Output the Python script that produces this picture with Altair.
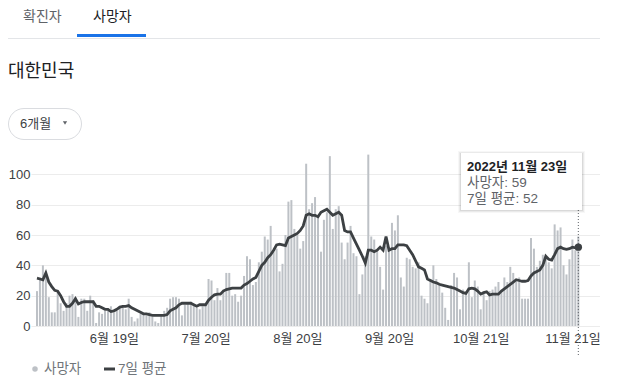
import altair as alt
import pandas as pd

# ---------------- data ----------------
start_date = "2022-05-24"
deaths = [
    23, 32, 40, 35, 19, 9, 9, 22, 15, 10,
    15, 20, 21, 19, 6, 18, 18, 10, 20, 17,
    2, 9, 8, 10, 10, 13, 9, 10, 12, 13,
    11, 18, 6, 3, 5, 8, 8, 7, 9, 6,
    3, 2, 7, 10, 12, 18, 19, 19, 18, 7,
    14, 15, 16, 14, 12, 11, 13, 14, 31, 30,
    17, 25, 17, 24, 35, 35, 20, 21, 16, 20,
    33, 46, 44, 27, 29, 42, 49, 59, 57, 66,
    49, 51, 36, 41, 60, 82, 83, 64, 60, 51,
    56, 107, 77, 81, 85, 73, 49, 70, 75, 112,
    64, 77, 79, 55, 44, 55, 66, 48, 46, 21,
    34, 46, 113, 59, 57, 50, 39, 24, 53, 52,
    68, 63, 73, 32, 26, 45, 44, 39, 38, 42,
    20, 18, 15, 31, 40, 31, 27, 22, 12, 4,
    27, 35, 32, 11, 24, 22, 42, 19, 30, 26,
    11, 22, 17, 23, 24, 26, 29, 23, 32, 29,
    39, 35, 31, 32, 18, 18, 18, 58, 51, 39,
    43, 47, 46, 42, 38, 67, 63, 65, 40, 34,
    44, 57, 50, 59,
]
avg7 = [
    31.5, 31, 30.5, 35, 29, 26, 23.5, 23, 20, 16,
    13, 13, 15, 18, 14.5, 15.5, 16, 16, 16, 16,
    13, 13, 12, 11, 11, 9.5, 10, 11, 12.5, 13,
    13, 13.5, 12, 11, 10, 9, 8, 8, 7.5, 7,
    7, 7, 7, 7, 7.5, 10, 11, 12, 14, 15,
    15, 15, 15, 14, 13, 14, 14, 14, 17, 19,
    20.5, 21, 21, 23, 24, 24.5, 25, 25, 25, 25,
    27, 28, 29.5, 31, 32, 36, 40, 42, 45, 47,
    50, 53.5, 54, 53.5, 53, 58, 59, 60, 61, 63,
    66, 73, 74, 73, 73, 72, 75, 76, 77, 75,
    73, 74, 75, 73, 63, 62, 62, 58, 54, 50,
    46, 41.5, 50, 50, 49, 50, 52, 50, 59, 50,
    51, 51, 53.5, 53.5, 53.5, 53, 50, 47, 43, 39,
    38, 37, 31, 30, 29, 28.5, 27.5, 27, 26.5, 26,
    25.5, 25, 24, 23, 22, 21.5, 24.5, 25, 24.5, 23,
    21, 22, 22.5, 20.5, 21, 21, 21, 23, 24.5, 26,
    27.5, 29, 30.5, 30, 29.5, 29.5, 30, 33, 35, 36,
    37, 40, 46, 44, 43.5, 47, 51, 52, 51, 50.5,
    51, 52, 51.5, 52,
]
tick_days = [26, 57, 88, 119, 150, 181]
tick_labels = ["6월 19일", "7월 20일", "8월 20일", "9월 20일", "10월 21일", "11월 21일"]
y_ticks = [0, 20, 40, 60, 80, 100]

tab_labels = ["확진자", "사망자"]
region_title = "대한민국"
range_label = "6개월"
legend_labels = ["사망자", "7일 평균"]
tip_title = "2022년 11월 23일"
tip_lines = ["사망자: 59", "7일 평균: 52"]

n = min(len(deaths), len(avg7))
df = pd.DataFrame({"day": list(range(n)), "deaths": deaths[:n], "avg": avg7[:n]})
last = df.iloc[[n - 1]]

FONT = "Liberation Sans, Noto Sans CJK KR"
BAR = "#bdc1c6"
LINE = "#3c4043"

label_expr = "''"
for d, l in reversed(list(zip(tick_days, tick_labels))):
    label_expr = f"datum.value == {d} ? '{l}' : {label_expr}"

W, H = 569, 182
xs = alt.Scale(domain=[-0.33, 188.64], nice=False, zero=False)
ys = alt.Scale(domain=[0, 120], nice=False)

x_axis = alt.Axis(values=tick_days, labelExpr=label_expr, grid=False, domain=False,
                  ticks=False, labelFontSize=13, labelColor="#3c4043", labelPadding=6,
                  labelFont=FONT, title=None, labelFlush=False, labelOverlap=False)
y_axis = alt.Axis(values=y_ticks, grid=True, gridColor="#ececec", domain=False, ticks=False,
                  labelFontSize=13, labelColor="#3c4043", labelPadding=1, labelFont=FONT,
                  title=None, labelOverlap=False)


def X():
    return alt.X("day:Q", scale=xs, axis=x_axis)


def Y(field):
    return alt.Y(f"{field}:Q", scale=ys, axis=y_axis)


base = alt.Chart(df)
bars = base.mark_bar(size=2, color=BAR).encode(x=X(), y=Y("deaths"))
line = base.mark_line(color=LINE, strokeWidth=2.8).encode(x=X(), y=Y("avg"))
vrule = alt.Chart(last).mark_rule(color="#5f6368", strokeDash=[1, 2], strokeWidth=1).encode(
    x=X(), y=alt.value(66), y2=alt.value(213)
)
dot = alt.Chart(last).mark_circle(color=LINE, size=55, opacity=1).encode(x=X(), y=Y("avg"))

OX, OY = 31, 144  # page -> chart offset


def txt(s, px, py, size=13, color="#202124", weight="normal", align="left", baseline="middle"):
    return alt.Chart(pd.DataFrame({"t": [s]})).mark_text(
        font=FONT, fontSize=size, color=color, fontWeight=weight, align=align, baseline=baseline
    ).encode(text="t:N", x=alt.value(px - OX), y=alt.value(py - OY))


def box(x1, y1, x2, y2, fill, opacity=1.0, stroke=None, radius=0):
    kw = dict(fill=fill, opacity=opacity, cornerRadius=radius)
    if stroke:
        kw.update(stroke=stroke, strokeWidth=1)
    return alt.Chart(pd.DataFrame({"a": [0]})).mark_rect(**kw).encode(
        x=alt.value(x1 - OX), x2=alt.value(x2 - OX), y=alt.value(y1 - OY), y2=alt.value(y2 - OY)
    )


one = pd.DataFrame({"a": [0]})
header = [
    box(8, 38, 600, 39, "#e3e5e8"),
    box(77, 34, 146, 37, "#1a73e8"),
    txt(tab_labels[0], 23, 17, size=14, color="#5f6368"),
    txt(tab_labels[1], 93, 17, size=14, color="#202124"),
    txt(region_title, 8, 72, size=18, color="#202124"),
    box(8.5, 108.5, 81.5, 139.5, "white", stroke="#dadce0", radius=16),
    txt(range_label, 20, 124, size=13, color="#3c4043"),
    alt.Chart(one).mark_point(shape="triangle-down", filled=True, size=18, color="#5f6368",
                              opacity=1).encode(x=alt.value(65 - OX), y=alt.value(123 - OY)),
]

tooltip = [
    box(458, 151, 585, 213, "#000000", opacity=0.03),
    box(459, 152, 584, 212, "#000000", opacity=0.05),
    box(460, 153, 583, 211, "#000000", opacity=0.07),
    box(461, 153, 582, 210, "white"),
    txt(tip_title, 467, 171, size=13, weight="bold", baseline="alphabetic"),
    txt(tip_lines[0], 467, 187, size=13.5, color="#5f6368", baseline="alphabetic"),
    txt(tip_lines[1], 467, 203, size=13.5, color="#5f6368", baseline="alphabetic"),
]

legend = [
    alt.Chart(one).mark_circle(color=BAR, size=30, opacity=1).encode(
        x=alt.value(35 - OX), y=alt.value(369 - OY)),
    txt(legend_labels[0], 44, 369, size=13.5, color="#70757a"),
    alt.Chart(one).mark_rule(color=LINE, strokeWidth=3).encode(
        x=alt.value(104 - OX), x2=alt.value(115 - OX), y=alt.value(369 - OY)),
    txt(legend_labels[1], 118, 369, size=13.5, color="#70757a"),
]

chart = alt.layer(bars, line, vrule, dot, *tooltip, *header, *legend).properties(
    width=W, height=H,
    padding={"left": 23, "top": 136, "right": 0, "bottom": 60},
    autosize=alt.AutoSizeParams(type="none"),
    background="white",
).configure_view(stroke=None)

chart.save("out.html", embed_options={"renderer": "svg", "actions": False})
